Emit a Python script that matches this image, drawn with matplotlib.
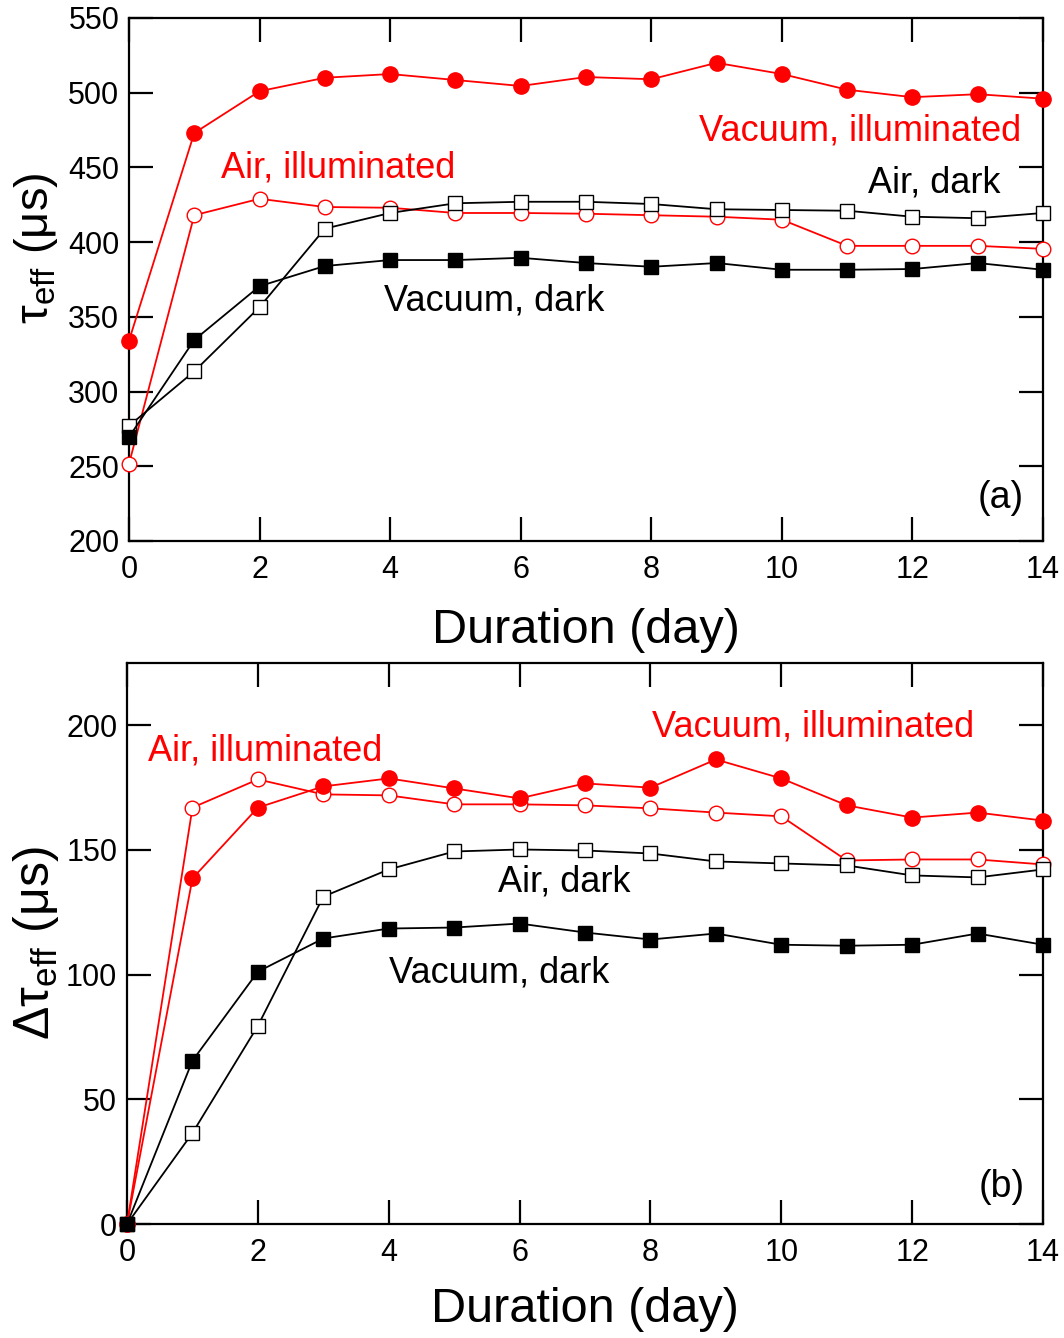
import matplotlib
matplotlib.use("Agg")
import matplotlib.pyplot as plt

plt.rcParams['font.family'] = ['Liberation Sans', 'DejaVu Sans']
plt.rcParams['mathtext.fontset'] = 'custom'
plt.rcParams['mathtext.rm'] = 'Liberation Sans'
plt.rcParams['mathtext.it'] = 'Liberation Sans:italic'
plt.rcParams['mathtext.sf'] = 'Liberation Sans'

days = list(range(15))

# Panel (a): tau_eff (us)
tau_vac_ill = [334, 473, 501, 510, 512.5, 508.5, 504.5, 510.5, 509, 520, 512.5, 502, 497, 499, 496]
tau_air_ill = [251.5, 418, 429, 423.5, 423, 419.5, 419.5, 419, 418, 417, 415, 397.5, 397.5, 397.5, 395.5]
tau_air_dark = [277, 313.5, 356.5, 409, 419.5, 426, 427, 427, 425.5, 422, 421.5, 421, 417, 416, 419.5]
tau_vac_dark = [269.5, 334.5, 370.5, 384, 388, 388, 389.5, 386, 383.5, 386, 381.5, 381.5, 382, 386, 381.5]

# Panel (b): delta tau_eff (us)
dtau_vac_ill = [0, 138.6, 167, 175.5, 178.7, 174.7, 170.7, 176.7, 175, 186.3, 178.7, 167.9, 163, 165, 161.8]
dtau_air_ill = [0, 167, 178.3, 172.3, 171.9, 168.3, 168.3, 167.9, 166.7, 165, 163.5, 145.8, 146.2, 146.2, 144.2]
dtau_air_dark = [0, 36.5, 79.5, 131.3, 142.2, 149.4, 150.2, 149.8, 148.6, 145.4, 144.6, 143.8, 139.8, 139, 142.2]
dtau_vac_dark = [0, 65.5, 101.2, 114.5, 118.5, 118.9, 120.5, 116.9, 114.1, 116.5, 112, 111.6, 112, 116.5, 112]

xticks = [0, 2, 4, 6, 8, 10, 12, 14]
yticks_a = [200, 250, 300, 350, 400, 450, 500, 550]
yticks_b = [0, 50, 100, 150, 200]

fig = plt.figure(figsize=(10.64, 13.38), dpi=100)
ax1 = fig.add_axes([0.1212, 0.5957, 0.9803 - 0.1212, 0.98655 - 0.5957])
ax2 = fig.add_axes([0.1194, 0.0852, 0.9803 - 0.1194, 0.5045 - 0.0852])

RED = '#ff0000'
lw = 1.3

def draw(ax, vi, ai, ad, vd):
    ax.plot(days, ai, '-o', color=RED, lw=lw, ms=10.5, mfc='white', mec=RED, mew=1.0, zorder=3, clip_on=False)
    ax.plot(days, vi, '-o', color=RED, lw=lw, ms=11, mfc=RED, mec=RED, zorder=4, clip_on=False)
    ax.plot(days, ad, '-s', color='black', lw=lw, ms=10, mfc='white', mec='black', mew=1.0, zorder=3, clip_on=False)
    ax.plot(days, vd, '-s', color='black', lw=lw, ms=10, mfc='black', mec='black', zorder=4, clip_on=False)

draw(ax1, tau_vac_ill, tau_air_ill, tau_air_dark, tau_vac_dark)
draw(ax2, dtau_vac_ill, dtau_air_ill, dtau_air_dark, dtau_vac_dark)

for ax in (ax1, ax2):
    ax.set_xlim(0, 14)
    ax.set_xticks(xticks)
    ax.tick_params(direction='in', length=17, width=1.6, top=True, right=True,
                   labelsize=22)
    ax.tick_params(axis='x', pad=10)
    ax.tick_params(axis='y', pad=7)
    for s in ax.spines.values():
        s.set_linewidth(1.6)

ax1.set_xlabel('Duration (day)', fontsize=35, labelpad=17)
ax2.set_xlabel('Duration (day)', fontsize=35, labelpad=14)

ax1.set_ylim(200, 550)
ax1.set_yticks(yticks_a)
ax2.set_ylim(0, 225)
ax2.set_yticks(yticks_b)

ax1.set_ylabel(r'τ$_{\mathrm{eff}}$ (μs)', fontsize=34)
ax1.yaxis.set_label_coords(-0.075, 0.56)
ax2.set_ylabel(r'Δτ$_{\mathrm{eff}}$ (μs)', fontsize=36)
ax2.yaxis.set_label_coords(-0.072, 0.50)

tf = 26
ax1.text(3.2, 449.6, 'Air, illuminated', color=RED, fontsize=tf, ha='center', va='center')
ax1.text(11.19, 474.4, 'Vacuum, illuminated', color=RED, fontsize=tf, ha='center', va='center')
ax1.text(12.34, 439.6, 'Air, dark', color='black', fontsize=tf, ha='center', va='center')
ax1.text(5.59, 360.6, 'Vacuum, dark', color='black', fontsize=tf, ha='center', va='center')
ax1.text(13.35, 228.7, '(a)', color='black', fontsize=27, ha='center', va='center')

ax2.text(2.11, 189.6, 'Air, illuminated', color=RED, fontsize=tf, ha='center', va='center')
ax2.text(10.48, 199.2, 'Vacuum, illuminated', color=RED, fontsize=tf, ha='center', va='center')
ax2.text(6.68, 137.3, 'Air, dark', color='black', fontsize=tf, ha='center', va='center')
ax2.text(5.69, 100.8, 'Vacuum, dark', color='black', fontsize=tf, ha='center', va='center')
ax2.text(13.37, 14.9, '(b)', color='black', fontsize=27, ha='center', va='center')

fig.savefig('out.png', dpi=100)
